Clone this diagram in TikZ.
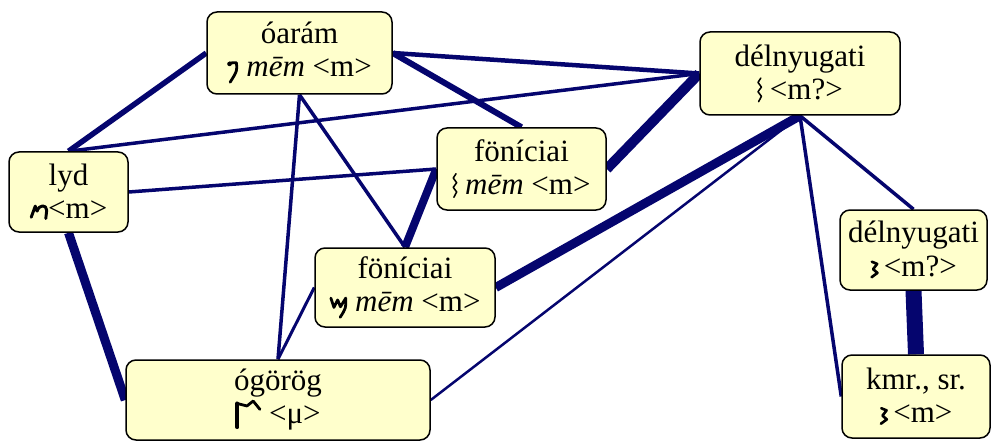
\documentclass[tikz,border=0pt]{standalone}
\usepackage{fontspec}
\setmainfont{Liberation Serif}
\usetikzlibrary{backgrounds}
\definecolor{navy}{RGB}{5,5,110}
\definecolor{boxfill}{RGB}{255,255,204}
\tikzset{glyphpic/.style={baseline=0pt,x=1em,y=1em,sharp corners,draw=black,fill=black,line cap=round,line join=round}}
\newcommand\gAram{\tikz[glyphpic]{\fill (0.05,0.42) circle (0.075);\draw[line width=0.09em] (0.05,0.45) -- (0.27,0.46) .. controls (0.3,0.2) .. (0.07,-0.17);}}
\newcommand\gWave{\tikz[glyphpic]{\draw[line width=0.05em] (0.14,0.68) -- (0.05,0.54) -- (0.16,0.39) -- (0.05,0.24) -- (0.16,0.09) -- (0.07,-0.08);}}
\newcommand\gLyd{\tikz[glyphpic]{\draw[line width=0.095em] (0.02,0.04) -- (0.15,0.4) -- (0.21,0.24) .. controls (0.28,0.46) and (0.52,0.46) .. (0.52,0.26) -- (0.49,0.0);}}
\newcommand\gFon{\tikz[glyphpic]{\draw[line width=0.09em] (0.02,0.42) -- (0.12,0.12) -- (0.24,0.36) -- (0.33,0.14) -- (0.5,0.42) .. controls (0.51,0.1) .. (0.32,-0.2);}}
\newcommand\gGreek{\tikz[glyphpic]{\draw[line width=0.13em] (0.07,-0.1) -- (0.07,0.66); \draw[line width=0.09em] (0.07,0.66) -- (0.38,0.58) -- (0.58,0.74) -- (0.8,0.47);}}
\newcommand\gZig{\tikz[glyphpic]{\draw[line width=0.085em] (0.01,0.46) -- (0.18,0.39) -- (0.05,0.22) -- (0.19,0.1) -- (0.0,-0.04);}}
\tikzset{
  box/.style={draw=black, line width=1.5pt, fill=boxfill, rounded corners=10pt,
    align=center, inner sep=0pt, font=\fontsize{31}{33}\selectfont},
  conn/.style={draw=navy}
}
\begin{document}
\begin{tikzpicture}[x=1pt,y=-1pt]
\useasboundingbox (0,0) rectangle (993,441);
\node[box, minimum width=185pt, minimum height=82pt] (oaram) at (299.5,53) {óarám\\\gAram\ \textit{mēm} \textless m\textgreater};
\node[box, minimum width=200pt, minimum height=83pt] (dny) at (800,73.5) {délnyugati\\\gWave\ \textless m?\textgreater};
\node[box, minimum width=119pt, minimum height=80pt] (lyd) at (68.5,192) {lyd\\\gLyd\textless m\textgreater};
\node[box, minimum width=169pt, minimum height=82pt] (fon1) at (521.5,169) {föníciai\\\gWave\ \textit{mēm} \textless m\textgreater};
\node[box, minimum width=180pt, minimum height=79pt] (fon2) at (405,287.5) {föníciai\\\gFon\ \textit{mēm} \textless m\textgreater};
\node[box, minimum width=304pt, minimum height=80pt] (ogorog) at (278,400) {ógörög\\\gGreek\ \textless μ\textgreater};
\node[box, minimum width=147pt, minimum height=80pt] (dny2) at (913.5,250) {délnyugati\\\gZig\,\textless m?\textgreater};
\node[box, minimum width=148pt, minimum height=83pt] (kmr) at (916,396.5) {kmr., sr.\\\gZig\,\textless m\textgreater};
\begin{scope}[on background layer]
\draw[conn, line width=5.5pt] (oaram.west) -- (lyd.north);
\draw[conn, line width=3.5pt] (lyd.north) -- (dny.west);
\draw[conn, line width=4.5pt] (oaram.east) -- (dny.west);
\draw[conn, line width=6pt] (oaram.east) -- (fon1.north);
\draw[conn, line width=10pt] (dny.west) -- (fon1.east);
\draw[conn, line width=3.5pt] (oaram.south) -- (fon2.north);
\draw[conn, line width=3.5pt] (oaram.south) -- (ogorog.north);
\draw[conn, line width=3.5pt] (lyd.east) -- (fon1.west);
\draw[conn, line width=8pt] (fon1.west) -- (fon2.north);
\draw[conn, line width=9pt] (lyd.south) -- (ogorog.west);
\draw[conn, line width=9pt] (dny.south) -- (fon2.east);
\draw[conn, line width=2.5pt] (dny.south) -- (ogorog.east);
\draw[conn, line width=3.5pt] (dny.south) -- (dny2.north);
\draw[conn, line width=3.5pt] (dny.south) -- (kmr.west);
\draw[conn, line width=3pt] (fon2.west) -- (ogorog.north);
\draw[conn, line width=16pt] (dny2.south) -- (kmr.north);
\end{scope}
\end{tikzpicture}
\end{document}
